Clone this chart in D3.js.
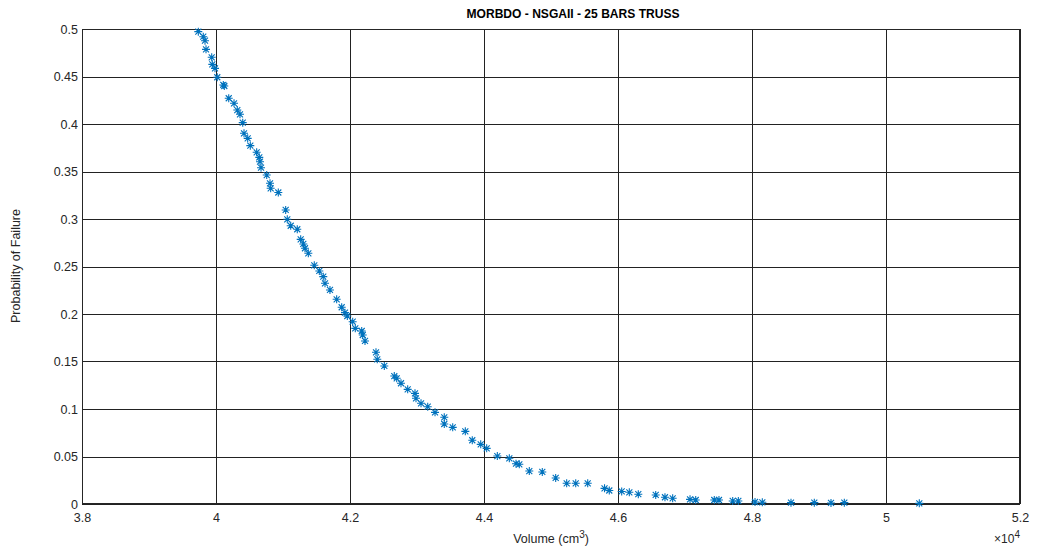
<!DOCTYPE html>
<html><head><meta charset="utf-8">
<script src="https://cdn.jsdelivr.net/npm/d3@7"></script>
<style>body{margin:0;background:#fff}svg text{font-family:"Liberation Sans",Arial,sans-serif}</style>
</head><body>
<svg id="c" width="1037" height="553"></svg>
<script>
const volume = [39736,39810,39836,39851,39936,39945,39985,40019,40109,40124,40190,40269,40318,40358,40399,40418,40473,40512,40607,40646,40657,40672,40757,40806,40816,40930,41040,41064,41115,41213,41264,41303,41328,41378,41467,41542,41601,41627,41701,41801,41876,41925,41960,42040,42079,42175,42190,42224,42388,42407,42512,42661,42697,42761,42861,42970,42985,43060,43160,43269,43407,43407,43533,43721,43825,43951,44040,44199,44378,44478,44527,44676,44870,45070,45234,45369,45548,45799,45870,46055,46169,46303,46563,46701,46816,47075,47160,47437,47507,47712,47796,48045,48154,48582,48930,49179,49378,50497];
const pFail = [0.4972,0.4919,0.4877,0.4786,0.4702,0.4628,0.4586,0.4492,0.4411,0.4400,0.4271,0.4218,0.4147,0.4102,0.4014,0.3902,0.3849,0.3772,0.3702,0.3649,0.3603,0.3540,0.3463,0.3376,0.3323,0.3279,0.3095,0.2997,0.2929,0.2892,0.2786,0.2737,0.2692,0.2639,0.2513,0.2453,0.2393,0.2323,0.2253,0.2155,0.2071,0.2014,0.1979,0.1919,0.1849,0.1821,0.1779,0.1716,0.1597,0.1523,0.1453,0.1347,0.1323,0.1271,0.1207,0.1165,0.1113,0.1060,0.1024,0.0965,0.0913,0.0842,0.0807,0.0765,0.0671,0.0628,0.0586,0.0505,0.0481,0.0424,0.0418,0.0347,0.0337,0.0274,0.0218,0.0218,0.0218,0.0165,0.0142,0.0132,0.0123,0.0103,0.0095,0.0071,0.0060,0.0049,0.0042,0.0042,0.0042,0.0032,0.0032,0.0021,0.0018,0.0014,0.0014,0.0011,0.0014,0.0007];
const xTicks = [38000,40000,42000,44000,46000,48000,50000,52000];
const xTickLabels = ["3.8","4","4.2","4.4","4.6","4.8","5","5.2"];
const yTicks = [0,0.05,0.1,0.15,0.2,0.25,0.3,0.35,0.4,0.45,0.5];
const yTickLabels = ["0","0.05","0.1","0.15","0.2","0.25","0.3","0.35","0.4","0.45","0.5"];
const titleText = "MORBDO - NSGAII - 25 BARS TRUSS";
const xLabel = "Volume (cm";
const yLabel = "Probability of Failure";

const svg = d3.select("#c");
const L=82, R=1020, T=29, B=504;
const x = d3.scaleLinear().domain([38000,52000]).range([L,R]);
const y = d3.scaleLinear().domain([0,0.5]).range([B,T]);
const ink="#262626";

const g = svg.append("g");
// grid
g.selectAll("line.vg").data(xTicks).join("line")
 .attr("x1",d=>Math.round(x(d))+0.5).attr("x2",d=>Math.round(x(d))+0.5)
 .attr("y1",T).attr("y2",B).attr("stroke","#222").attr("stroke-width",1);
g.selectAll("line.hg").data(yTicks).join("line")
 .attr("y1",d=>Math.round(y(d))+0.5).attr("y2",d=>Math.round(y(d))+0.5)
 .attr("x1",L).attr("x2",R).attr("stroke","#222").attr("stroke-width",1);
// box
g.append("rect").attr("x",L+0.5).attr("y",T+0.5).attr("width",R-L-1).attr("height",B-T-1)
 .attr("fill","none").attr("stroke",ink).attr("stroke-width",1);

// axes labels
const xa = d3.axisBottom(x).tickValues(xTicks).tickFormat((d,i)=>xTickLabels[i]).tickSize(0).tickPadding(9);
const xg = svg.append("g").attr("transform",`translate(0,${B})`).call(xa);
const ya = d3.axisLeft(y).tickValues(yTicks).tickFormat((d,i)=>yTickLabels[i]).tickSize(0).tickPadding(4);
const yg = svg.append("g").attr("transform",`translate(${L},0)`).call(ya);
[xg,yg].forEach(a=>{a.select(".domain").remove();a.selectAll("text").attr("fill",ink).style("font-size","12.5px").style("font-family","'Liberation Sans',Arial,sans-serif");});

// markers
const c="#0072BD";
const star = "M-4,0H4M0,-4V4M-3,-3L3,3M-3,3L3,-3";
svg.append("g").selectAll("path").data(volume).join("path")
 .attr("transform",(d,i)=>`translate(${x(d)},${y(pFail[i])})`)
 .attr("d",star).attr("stroke",c).attr("stroke-width",1.1).attr("fill","none");

// title
svg.append("text").attr("x",573).attr("y",18).attr("text-anchor","middle")
 .attr("textLength",213).attr("lengthAdjust","spacingAndGlyphs")
 .style("font-size","13px").style("font-weight","bold").attr("fill","#000").text(titleText);
// x label
const xl = svg.append("text").attr("x",551).attr("y",543).attr("text-anchor","middle")
 .style("font-size","12.5px").attr("fill",ink);
xl.append("tspan").text(xLabel);
xl.append("tspan").attr("dy",-5).style("font-size","10px").text("3");
xl.append("tspan").attr("dy",5).text(")");
// y label
svg.append("text").attr("transform","translate(20,266) rotate(-90)").attr("text-anchor","middle")
 .style("font-size","12.5px").attr("fill",ink).text(yLabel);
// exponent
const ex = svg.append("text").attr("x",1020).attr("y",543).attr("text-anchor","end")
 .style("font-size","12px").attr("fill",ink);
ex.append("tspan").text("\u00d710");
ex.append("tspan").attr("dy",-5).style("font-size","10px").text("4");
</script>
</body></html>
